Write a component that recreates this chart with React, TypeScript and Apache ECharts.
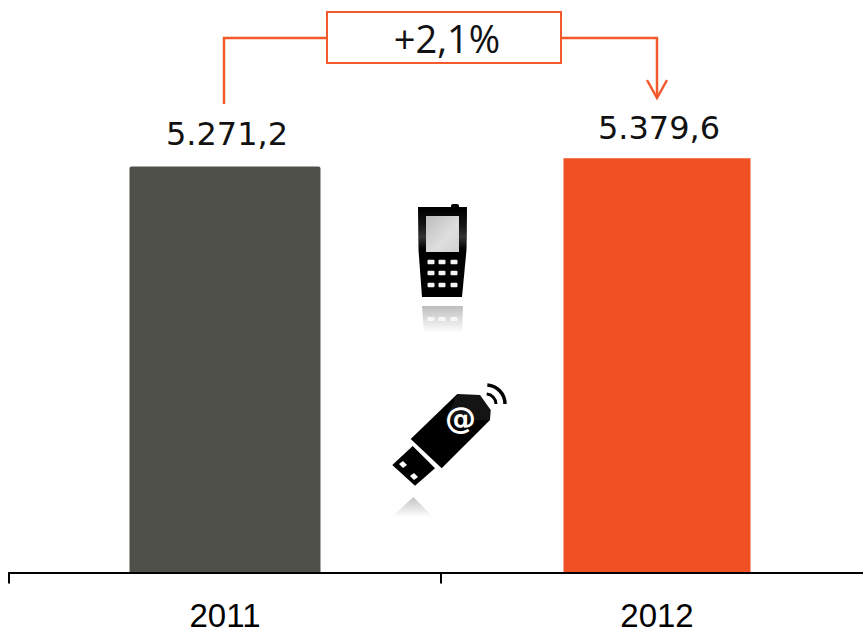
import React, { useEffect, useRef } from "react";
import * as echarts from "echarts";

const categories = ["2011", "2012"];
const values2011 = [5271.2, null];
const values2012 = [null, 5379.6];
const valueLabels = ["5.271,2", "5.379,6"];
const changeLabel = "+2,1%";

const ORANGE = "#F05023";
const LINE = "#F4592C";
const FONT = "'DejaVu Sans', sans-serif";
const SANS = "'Open Sans', sans-serif";
const AXIS_FONT = "'Liberation Sans', sans-serif";

const fade = (a: number, x0 = 0, y0 = 0, x1 = 0, y1 = 1) => new echarts.graphic.LinearGradient(x0, y0, x1, y1, [
  { offset: 0, color: `rgba(0,0,0,${a})` },
  { offset: 1, color: "rgba(0,0,0,0)" },
]);

const phoneKeys = () => {
  const out: any[] = [];
  for (const y of [262, 273, 285]) for (const x of [431, 442, 454]) {
    out.push({ type: "rect", shape: { x: x - 3.5, y: y - 2.2, width: 7, height: 4.5, r: 1 }, style: { fill: "#f2f2f2" } });
  }
  return out;
};

const phone = {
  type: "group",
  children: [
    { type: "rect", shape: { x: 451, y: 204, width: 8, height: 5, r: 2 }, style: { fill: "#000" } },
    { type: "polygon", shape: { points: [[418, 207], [467, 207], [466.5, 250], [462, 297], [422, 297], [418.5, 250]] }, style: { fill: "#000" } },
    { type: "rect", shape: { x: 418.5, y: 209, width: 47.5, height: 40 }, style: {
      fill: new echarts.graphic.LinearGradient(0, 1, 0, 0, [
        { offset: 0, color: "rgba(255,255,255,0)" }, { offset: 0.3, color: "rgba(255,255,255,0.2)" },
        { offset: 0.6, color: "rgba(255,255,255,0.08)" }, { offset: 1, color: "rgba(255,255,255,0)" },
      ]) } },
    { type: "rect", shape: { x: 426, y: 216, width: 33, height: 36 }, style: {
      fill: new echarts.graphic.LinearGradient(0, 0, 1, 1, [
        { offset: 0, color: "#bcbcbc" }, { offset: 0.6, color: "#dedede" }, { offset: 1, color: "#d0d0d0" },
      ]) } },
    ...phoneKeys(),
    { type: "polygon", shape: { points: [[422, 306], [463, 306], [462, 333], [424, 333]] }, style: { fill: fade(0.26) } },
    ...[431, 442, 454].map((x) => ({ type: "rect", shape: { x: x - 3.5, y: 317, width: 7, height: 4 }, style: { fill: "rgba(255,255,255,0.75)" } })),
  ],
};

const usb = {
  type: "group",
  children: [
    { type: "polygon", shape: { points: [[410.7, 439], [457.3, 394], [480, 395], [490.7, 410], [490, 420], [441.7, 468.3]] }, style: { fill: "#000" } },
    { type: "polygon", shape: { points: [[412.7, 446], [435, 468.3], [415, 485.7], [392.3, 465]] }, style: { fill: "#000" } },
    { type: "polygon", shape: { points: [[457.3, 394], [480, 395], [490.7, 410], [490, 420], [445, 421]] }, style: { fill: "rgba(255,255,255,0.08)" } },
    { type: "polygon", shape: { points: [[399, 464], [403, 461], [407, 465], [403, 468]] }, style: { fill: "#fff" } },
    { type: "polygon", shape: { points: [[410, 476], [414, 473], [418, 477], [414, 480]] }, style: { fill: "#fff" } },
    { type: "text", style: { x: 460.5, y: 418, text: "@", fill: "#fff", font: "bold 31px " + FONT, align: "center", verticalAlign: "middle" } },
    { type: "arc", shape: { cx: 486, cy: 404, r: 10, startAngle: -1.5, endAngle: 0 }, style: { stroke: "#000", lineWidth: 3, fill: "none" } },
    { type: "arc", shape: { cx: 486, cy: 404, r: 19, startAngle: -1.5, endAngle: 0 }, style: { stroke: "#000", lineWidth: 3.5, fill: "none" } },
    { type: "polygon", shape: { points: [[413.3, 497], [433.3, 517], [391.7, 517]] }, style: { fill: fade(0.24) } },
  ],
};

const annotation = [
  { type: "polyline", shape: { points: [[224, 104], [224, 38], [327, 38]] }, style: { stroke: LINE, lineWidth: 2.5, fill: "none" } },
  { type: "polyline", shape: { points: [[561, 38], [657, 38], [657, 97]] }, style: { stroke: LINE, lineWidth: 2.5, fill: "none" } },
  { type: "polyline", shape: { points: [[647, 80], [657, 98], [667, 80]] }, style: { stroke: LINE, lineWidth: 2.5, fill: "none" } },
  { type: "rect", shape: { x: 327, y: 12, width: 234, height: 51 }, style: { stroke: LINE, lineWidth: 2, fill: "#fff" } },
  { type: "text", style: { x: 447, y: 38, text: changeLabel, fill: "#111", font: "38px " + SANS, align: "center", verticalAlign: "middle" } },
];

const barLabel = (text: string, distance: number) => ({
  show: true, position: "top" as const, distance, offset: [2, 0], formatter: text,
  color: "#111", fontFamily: FONT, fontSize: 32,
});

export default function App() {
  const ref = useRef<HTMLDivElement>(null);
  useEffect(() => {
    const chart = echarts.init(ref.current!, null, { renderer: "svg" });
    chart.setOption({
      animation: false,
      backgroundColor: "#fff",
      grid: { left: 9, width: 864, top: 110.5, height: 462 },
      xAxis: [
        {
          type: "category", data: categories, position: "bottom",
          axisLine: { lineStyle: { color: "#000", width: 2 } },
          axisTick: { show: true, length: 11, lineStyle: { color: "#000", width: 2 } },
          axisLabel: { color: "#000", fontFamily: AXIS_FONT, fontSize: 33, lineHeight: 33, margin: 26 },
          z: 5,
        },
        { type: "category", data: categories, show: false },
      ],
      yAxis: { type: "value", min: 0, max: 6000, show: false, splitLine: { show: false } },
      series: [
        { type: "bar", xAxisIndex: 0, data: values2011, barWidth: 191, itemStyle: { color: "#50504A", borderRadius: [2, 2, 0, 0] }, label: barLabel(valueLabels[0], 17) },
        { type: "bar", xAxisIndex: 1, data: values2012, barWidth: 187, itemStyle: { color: ORANGE }, label: barLabel(valueLabels[1], 14) },
      ],
      graphic: [...annotation, phone, usb],
    });
    return () => chart.dispose();
  }, []);
  return (
    <div style={{ position: "absolute", left: 0, top: 0, width: 863, height: 635, overflow: "hidden" }}>
      <div ref={ref} style={{ width: 880, height: 635 }} />
    </div>
  );
}
